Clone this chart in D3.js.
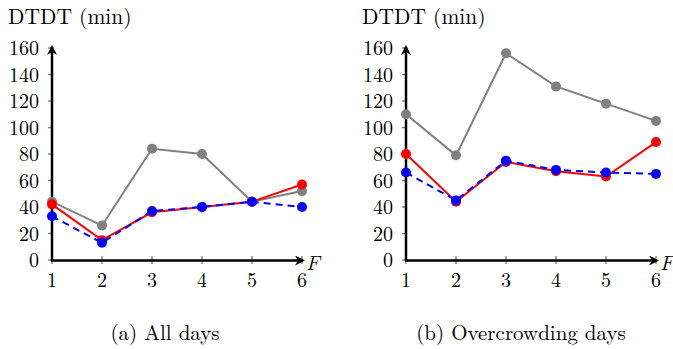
<!DOCTYPE html>
<html><head><meta charset="utf-8">
<script src="https://cdn.jsdelivr.net/npm/d3@7"></script>
<style>body{margin:0;background:#fff}svg{display:block}</style>
</head><body>
<svg id="c" width="673" height="349"></svg>
<script>
const categories = [1, 2, 3, 4, 5, 6];
const yTicks = [0, 20, 40, 60, 80, 100, 120, 140, 160];
const allGray = [44, 26, 84, 80, 44, 52];
const allRed = [42, 15, 36, 40, 44, 57];
const allBlue = [33, 13, 37, 40, 44, 40];
const ocGray = [110, 79, 156, 131, 118, 105];
const ocRed = [80, 44, 74, 67, 63, 89];
const ocBlue = [66, 45, 75, 68, 66, 65];
const captions = ["(a) All days", "(b) Overcrowding days"];

const FONT = '"Latin Modern Roman", "DejaVu Serif", serif';
const svg = d3.select("#c");
const defs = svg.append("defs");
defs.append("marker").attr("id", "arr").attr("viewBox", "0 0 10 10").attr("refX", 8).attr("refY", 5)
  .attr("markerWidth", 4).attr("markerHeight", 4).attr("orient", "auto-start-reverse").attr("markerUnits", "strokeWidth")
  .append("path").attr("d", "M0,0 L10,5 L0,10 L3,5 Z").attr("fill", "#000");

const FS = 20;
const TFS = 21.5;
const CFS = 21;
function panel(x0, series, caption, capX) {
  const x = d3.scaleLinear().domain([1, 6]).range([x0, x0 + 250]);
  const y = d3.scaleLinear().domain([0, 160]).range([260, 48]);
  const g = svg.append("g");
  g.selectAll(".yt").data(yTicks).join("line")
    .attr("x1", x0 - 4).attr("x2", x0 + 1).attr("y1", d => y(d)).attr("y2", d => y(d))
    .attr("stroke", "#888").attr("stroke-width", 1.5);
  g.selectAll(".yl").data(yTicks).join("text")
    .attr("x", x0 - 13).attr("y", d => y(d) + 7).attr("text-anchor", "end")
    .style("font-family", FONT).attr("font-size", FS).text(d => d);
  g.selectAll(".xt").data(categories).join("line")
    .attr("x1", d => x(d)).attr("x2", d => x(d)).attr("y1", 256).attr("y2", 264)
    .attr("stroke", "#888").attr("stroke-width", 1.5);
  g.selectAll(".xl").data(categories).join("text")
    .attr("x", d => x(d)).attr("y", 287).attr("text-anchor", "middle")
    .style("font-family", FONT).attr("font-size", FS).text(d => d);
  g.append("line").attr("x1", x0).attr("x2", x0).attr("y1", 261.5).attr("y2", 47)
    .attr("stroke", "#000").attr("stroke-width", 2.5).attr("marker-end", "url(#arr)");
  g.append("line").attr("x1", x0 - 1).attr("x2", x(6) + 1).attr("y1", 260.5).attr("y2", 260.5)
    .attr("stroke", "#000").attr("stroke-width", 2.5).attr("marker-end", "url(#arr)");
  g.append("text").attr("x", x(6) + 4).attr("y", 270).style("font-family", FONT).attr("font-size", 21)
    .attr("font-style", "italic").text("F");
  g.append("text").attr("x", x0 - 44).attr("y", 24).style("font-family", FONT).attr("font-size", TFS).text("DTDT (min)");
  const line = d3.line().x((d, i) => x(categories[i])).y(d => y(d));
  series.forEach(s => {
    g.append("path").attr("d", line(s.v)).attr("fill", "none").attr("stroke", s.c)
      .attr("stroke-width", 2).attr("stroke-dasharray", s.dash ? "7,5" : null);
    g.selectAll(null).data(s.v).join("circle")
      .attr("cx", (d, i) => x(categories[i])).attr("cy", d => y(d)).attr("r", 5).attr("fill", s.c);
  });
  g.append("text").attr("x", capX).attr("y", 340).attr("text-anchor", "middle")
    .style("font-family", FONT).attr("font-size", CFS).text(caption);
}
panel(52, [{v: allGray, c: "#808080"}, {v: allRed, c: "#ff0000"}, {v: allBlue, c: "#0000ff", dash: true}], captions[0], 165);
panel(406, [{v: ocGray, c: "#808080"}, {v: ocRed, c: "#ff0000"}, {v: ocBlue, c: "#0000ff", dash: true}], captions[1], 521);
</script>
</body></html>
